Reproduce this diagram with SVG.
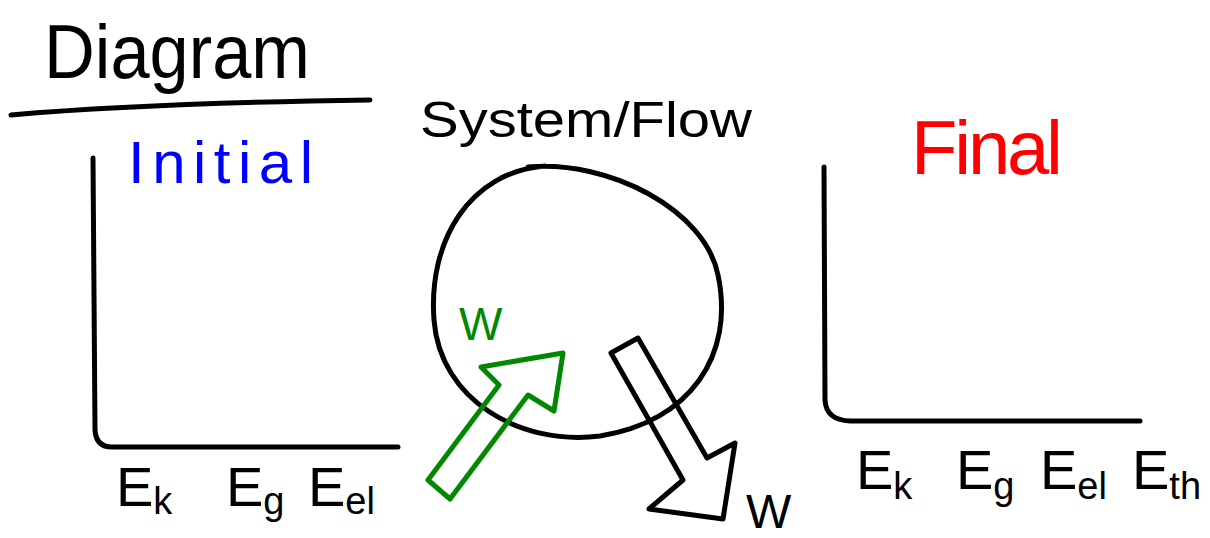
<svg xmlns="http://www.w3.org/2000/svg" width="1210" height="538" viewBox="0 0 1210 538">
<style>
.ink{fill:none;stroke:#000;stroke-width:5;stroke-linecap:round;stroke-linejoin:round}
.t{font-family:"Liberation Sans",Arial,sans-serif;fill:#000}
.E{font-size:56px}
.sub{font-size:38px}
</style>
<rect width="1210" height="538" fill="#fff"/>
<g id="title">
<text class="t" x="44" y="78" font-size="76" textLength="266" lengthAdjust="spacingAndGlyphs">Diagram</text>
<path class="ink" d="M11,115 Q150,103 370,100"/>
</g>
<g id="initial">
<text class="t" x="128" y="183" font-size="60" style="fill:#0000ff" textLength="185" lengthAdjust="spacing">Initial</text>
<path class="ink" d="M93,158 L95,430 Q96,447 112,447 L398,447"/>
<text class="t E" x="116" y="506">E<tspan class="sub" dy="8">k</tspan></text>
<text class="t E" x="226" y="506">E<tspan class="sub" dy="8">g</tspan></text>
<text class="t E" x="308" y="506">E<tspan class="sub" dy="8">el</tspan></text>
</g>
<g id="system">
<text class="t" x="420" y="137" font-size="50" textLength="332" lengthAdjust="spacingAndGlyphs">System/Flow</text>
<path class="ink" d="M528,167 C610,160 705,210 718,275 C735,355 690,422 600,436 C520,446 440,400 434,320 C428,240 470,172 545,166"/>
</g>
<g id="final">
<text class="t" x="911" y="174" font-size="76" style="fill:#ff0000" textLength="152" lengthAdjust="spacing">Final</text>
<path class="ink" d="M824,167 L825,400 Q826,420 850,421 L1140,421"/>
<text class="t E" x="856" y="489">E<tspan class="sub" dy="10">k</tspan></text>
<text class="t E" x="956" y="489">E<tspan class="sub" dy="10">g</tspan></text>
<text class="t E" x="1040" y="489">E<tspan class="sub" dy="10">el</tspan></text>
<text class="t E" x="1132" y="489">E<tspan class="sub" dy="10">th</tspan></text>
</g>
<g id="connectors">
<g id="work-in">
<path d="M428,480 L450,499 L528,395 L554,411 L563,353 L481,367 L499,385 Z" fill="none" stroke="#008800" stroke-width="5" stroke-linejoin="round"/>
<text class="t" x="459" y="340" font-size="46" style="fill:#008800">W</text>
</g>
<g id="work-out">
<path class="ink" d="M611,353 L638,338 L707,458 L735,443 L723,519 L649,509 L683,480 Z"/>
<text class="t" x="746" y="528" font-size="48">W</text>
</g>
</g>
</svg>
